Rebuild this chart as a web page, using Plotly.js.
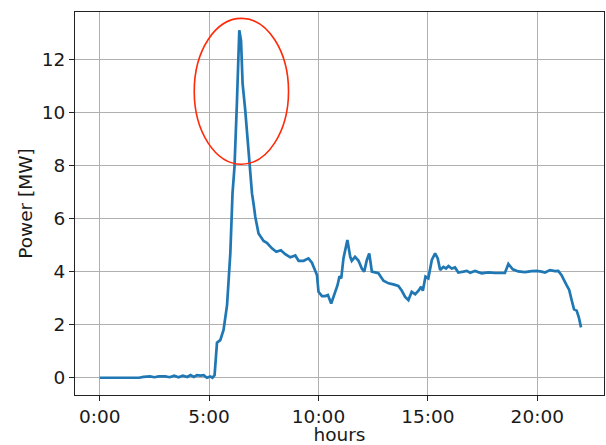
<!DOCTYPE html>
<html>
<head>
<meta charset="utf-8">
<script src="https://cdn.plot.ly/plotly-3.0.1.min.js"></script>
<style>
  html, body { margin: 0; padding: 0; background: #fff; }
  #chart { width: 606px; height: 445px; }
</style>
</head>
<body>
<div id="chart"></div>
<script>
// Time of day in hours
const hours = [
  0.0, 1.0, 1.8, 2.0, 2.3, 2.5, 2.7, 3.0, 3.2, 3.4, 3.6, 3.8, 4.0, 4.15, 4.3, 4.45, 4.6, 4.75, 4.9, 5.05, 5.15, 5.25,
  5.36, 5.51, 5.66, 5.82, 5.97, 6.07, 6.16, 6.27, 6.38, 6.46, 6.53, 6.65, 6.80, 6.88, 6.96, 7.03, 7.11, 7.26, 7.49,
  7.64, 7.87, 8.07, 8.28, 8.48, 8.71, 8.94, 9.09, 9.32, 9.54, 9.70, 9.85, 9.93, 10.00, 10.16, 10.31, 10.43, 10.58,
  10.76, 10.87, 10.96, 11.04, 11.14, 11.32, 11.45, 11.52, 11.67, 11.83, 11.98, 12.09, 12.21, 12.32, 12.44, 12.59,
  12.74, 12.97, 13.20, 13.42, 13.65, 13.81, 13.96, 14.11, 14.26, 14.42, 14.57, 14.69, 14.77, 14.89, 15.02, 15.18,
  15.33, 15.45, 15.56, 15.71, 15.83, 15.94, 16.09, 16.24, 16.39, 16.62, 16.78, 16.93, 17.15, 17.46, 17.76, 18.07,
  18.52, 18.68, 18.88, 19.13, 19.44, 19.74, 19.97, 20.20, 20.35, 20.58, 20.81, 20.96, 21.11, 21.34, 21.46, 21.57,
  21.68, 21.80, 21.90, 22.00
];
// Power in MW
const powerMW = [
  0.0, 0.0, 0.0, 0.03, 0.05, 0.02, 0.05, 0.05, 0.02, 0.08, 0.02, 0.08, 0.03, 0.1, 0.03, 0.1, 0.08, 0.1, 0.0, 0.05, 0.0, 0.1,
  1.32, 1.42, 1.8, 2.74, 4.7, 6.95, 7.95, 10.34, 13.1, 12.7, 11.1, 10.1, 8.45, 7.83, 6.95, 6.57, 6.07, 5.44, 5.16,
  5.09, 4.88, 4.75, 4.81, 4.66, 4.54, 4.61, 4.41, 4.41, 4.50, 4.34, 4.06, 3.87, 3.24, 3.08, 3.08, 3.12, 2.80,
  3.18, 3.49, 3.83, 3.75, 4.5, 5.19, 4.56, 4.41, 4.56, 4.41, 4.12, 4.0, 4.44, 4.69, 4.0, 3.96,
  3.94, 3.66, 3.56, 3.52, 3.46, 3.28, 3.05, 2.93, 3.24, 3.15, 3.28, 3.43, 3.28, 3.81, 3.75, 4.44,
  4.69, 4.5, 4.06, 4.18, 4.12, 4.21, 4.12, 4.16, 3.97, 4.0, 4.03, 3.96, 4.03, 3.94, 3.97, 3.95,
  3.95, 4.29, 4.09, 4.01, 3.98, 4.02, 4.03, 4.0, 3.97, 4.06, 4.02, 4.03, 3.87, 3.49, 3.31, 2.93,
  2.58, 2.53, 2.28, 1.90
];
const tickHours = [0, 5, 10, 15, 20];
const tickLabels = ["0:00", "5:00", "10:00", "15:00", "20:00"];
const yTicks = [0, 2, 4, 6, 8, 10, 12];

const trace = {
  x: hours, y: powerMW, type: 'scatter', mode: 'lines',
  line: { color: '#1f77b4', width: 2.7 }, hoverinfo: 'skip'
};

const axisFont = { family: 'DejaVu Sans, sans-serif', size: 18.5, color: '#1a1a1a' };

const layout = {
  width: 606, height: 445,
  margin: { l: 75, r: 2, t: 12, b: 50 },
  paper_bgcolor: '#fff', plot_bgcolor: '#fff',
  showlegend: false,
  font: axisFont,
  xaxis: {
    range: [-1.13, 23.05], tickvals: tickHours, ticktext: tickLabels,
    showgrid: true, gridcolor: '#b0b0b0', gridwidth: 1, zeroline: false,
    showline: true, linecolor: '#222', linewidth: 1, mirror: true,
    ticks: 'outside', ticklen: 5, tickcolor: '#222', tickwidth: 1,
    tickfont: axisFont,
    title: { text: 'hours', font: axisFont, standoff: 4 }
  },
  yaxis: {
    range: [-0.65, 13.79], tickvals: yTicks,
    showgrid: true, gridcolor: '#b0b0b0', gridwidth: 1, zeroline: false,
    showline: true, linecolor: '#222', linewidth: 1, mirror: true,
    ticks: 'outside', ticklen: 5, tickcolor: '#222', tickwidth: 1,
    tickfont: axisFont,
    title: { text: 'Power [MW]', font: axisFont, standoff: 4 }
  },
  shapes: [{
    type: 'circle', xref: 'x', yref: 'y',
    x0: 4.32, x1: 8.63, y0: 8.05, y1: 13.55,
    line: { color: '#ff2a0a', width: 1.6 }, fillcolor: 'rgba(0,0,0,0)'
  }]
};

Plotly.newPlot('chart', [trace], layout, { displayModeBar: false, staticPlot: true });
</script>
</body>
</html>
